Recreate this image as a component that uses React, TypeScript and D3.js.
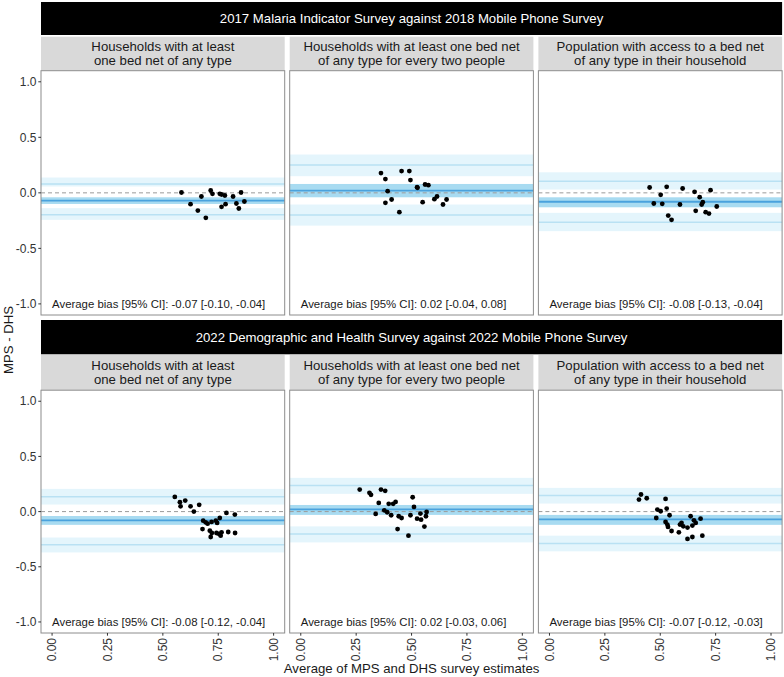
import React from "react";
import * as d3 from "d3";

// ---------- DATA ----------
const rowTitles = [
  "2017 Malaria Indicator Survey against 2018 Mobile Phone Survey",
  "2022 Demographic and Health Survey against 2022 Mobile Phone Survey",
];
const indicatorTitles = [
  ["Households with at least", "one bed net of any type"],
  ["Households with at least one bed net", "of any type for every two people"],
  ["Population with access to a bed net", "of any type in their household"],
];
const yTicks = [1.0, 0.5, 0.0, -0.5, -1.0];
const xTicks = [0, 0.25, 0.5, 0.75, 1.0];

// 2017 MIS vs 2018 MPS
const misAnyX = [0.584, 0.625, 0.658, 0.674, 0.694, 0.716, 0.724, 0.757, 0.765, 0.78, 0.765, 0.783, 0.817, 0.832, 0.843, 0.853, 0.868];
const misAnyY = [0.003, -0.102, -0.16, -0.033, -0.225, 0.021, -0.009, -0.009, -0.015, -0.024, -0.126, -0.102, -0.033, -0.096, -0.141, 0.003, -0.078];
const misTwoX = [0.362, 0.382, 0.455, 0.49, 0.495, 0.392, 0.382, 0.41, 0.445, 0.525, 0.527, 0.561, 0.576, 0.55, 0.603, 0.615, 0.642, 0.658];
const misTwoY = [0.178, 0.124, 0.196, 0.196, 0.115, 0.015, -0.09, -0.06, -0.174, 0.051, 0.045, 0.075, 0.069, -0.084, -0.057, -0.033, -0.105, -0.06];
const misAccX = [0.452, 0.529, 0.502, 0.601, 0.655, 0.727, 0.471, 0.509, 0.589, 0.536, 0.551, 0.678, 0.692, 0.687, 0.66, 0.705, 0.72, 0.755];
const misAccY = [0.048, 0.054, -0.018, 0.039, 0.009, 0.024, -0.096, -0.099, -0.105, -0.205, -0.243, -0.039, -0.084, -0.105, -0.162, -0.174, -0.187, -0.123];

// 2022 DHS vs 2022 MPS
const dhsAnyX = [0.554, 0.577, 0.601, 0.58, 0.625, 0.64, 0.664, 0.682, 0.693, 0.702, 0.679, 0.72, 0.739, 0.745, 0.757, 0.787, 0.825, 0.712, 0.721, 0.716, 0.742, 0.754, 0.765, 0.761, 0.795, 0.826];
const dhsAnyY = [0.133, 0.085, 0.1, 0.048, 0.048, 0.0, 0.061, -0.082, -0.097, -0.109, -0.158, -0.094, -0.082, -0.103, -0.058, -0.012, -0.027, -0.173, -0.194, -0.23, -0.194, -0.203, -0.188, -0.218, -0.185, -0.194];
const dhsTwoX = [0.266, 0.31, 0.317, 0.362, 0.381, 0.352, 0.377, 0.39, 0.338, 0.408, 0.397, 0.417, 0.428, 0.442, 0.455, 0.437, 0.505, 0.511, 0.495, 0.486, 0.525, 0.54, 0.543, 0.565, 0.568, 0.558];
const dhsTwoY = [0.2, 0.17, 0.152, 0.2, 0.188, 0.079, 0.012, -0.006, -0.021, -0.033, 0.07, 0.07, 0.088, -0.042, -0.058, -0.158, 0.13, 0.042, -0.033, -0.218, -0.064, -0.018, -0.073, -0.042, -0.003, -0.136];
const dhsAccX = [0.404, 0.413, 0.439, 0.524, 0.487, 0.502, 0.529, 0.482, 0.524, 0.532, 0.535, 0.542, 0.551, 0.584, 0.589, 0.596, 0.604, 0.623, 0.637, 0.645, 0.652, 0.66, 0.682, 0.623, 0.645, 0.69];
const dhsAccY = [0.109, 0.155, 0.121, 0.115, 0.018, 0.003, 0.027, -0.058, -0.094, -0.118, -0.139, -0.033, -0.176, -0.188, -0.118, -0.103, -0.133, -0.145, -0.042, -0.127, -0.079, -0.103, -0.064, -0.248, -0.23, -0.218];

// Bias statistics per panel (row-major: MIS any, two, access, DHS any, two, access)
const biasMean = [-0.07, 0.02, -0.08, -0.08, 0.02, -0.07];
const biasLow = [-0.10, -0.04, -0.13, -0.12, -0.03, -0.12];
const biasHigh = [-0.04, 0.08, -0.04, -0.04, 0.06, -0.03];
const upperLoA = [0.08, 0.25, 0.105, 0.135, 0.236, 0.145];
const upperLoALow = [0.057, 0.15, 0.03, 0.064, 0.161, 0.073];
const upperLoAHigh = [0.138, 0.345, 0.185, 0.206, 0.306, 0.215];
const lowerLoA = [-0.198, -0.2, -0.265, -0.3, -0.203, -0.29];
const lowerLoALow = [-0.243, -0.295, -0.345, -0.37, -0.279, -0.36];
const lowerLoAHigh = [-0.138, -0.105, -0.18, -0.235, -0.134, -0.218];

const panelXs = [misAnyX, misTwoX, misAccX, dhsAnyX, dhsTwoX, dhsAccX];
const panelYs = [misAnyY, misTwoY, misAccY, dhsAnyY, dhsTwoY, dhsAccY];

// ---------- LAYOUT ----------
const W = 784;
const H = 677;
const FONT = "'Liberation Sans', Arial, Helvetica, sans-serif";
const colX0 = 41;
const colW = 243.7;
const colGap = 5;
const rows = [
  { hTop: 2, hBot: 35, sTop: 36.7, sBot: 70.7, pTop: 70.7, pBot: 315 },
  { hTop: 320, hBot: 354.3, sTop: 355, sBot: 390.2, pTop: 390.2, pBot: 633 },
];

const C = {
  loaBand: "#e4f5fc",
  loaLine: "#b9e1f3",
  meanBand: "#a8dbf1",
  meanLine: "#4aa2dd",
  border: "#8c8c8c",
  strip: "#d9d9d9",
  text: "#1a1a1a",
  axis: "#333333",
};

function Panel({ idx }: { idx: number }) {
  const r = Math.floor(idx / 3);
  const c = idx % 3;
  const row = rows[r];
  const x0 = colX0 + c * (colW + colGap);
  const x = d3.scaleLinear().domain([-0.05, 1.05]).range([x0, x0 + colW]);
  const y = d3.scaleLinear().domain([-1.1, 1.1]).range([row.pBot, row.pTop]);
  const xs = panelXs[idx];
  const ys = panelYs[idx];
  const band = (lo: number, hi: number, fill: string) => (
    <rect x={x0} width={colW} y={y(hi)} height={y(lo) - y(hi)} fill={fill} />
  );
  const hline = (v: number, stroke: string, sw: number, dash?: string) => (
    <line x1={x0} x2={x0 + colW} y1={y(v)} y2={y(v)} stroke={stroke} strokeWidth={sw} strokeDasharray={dash} />
  );
  const label = `Average bias [95% CI]: ${biasMean[idx].toFixed(2)} [${biasLow[idx].toFixed(2)}, ${biasHigh[idx].toFixed(2)}]`;
  const stripMid = (row.sTop + row.sBot) / 2;
  return (
    <g>
      {/* strip */}
      <rect x={x0} y={row.sTop} width={colW} height={row.sBot - row.sTop} fill={C.strip} />
      <text x={x0 + colW / 2} y={stripMid - 2.8} textAnchor="middle" fontSize={13.2} fill={C.text} fontFamily={FONT}>
        {indicatorTitles[c][0]}
      </text>
      <text x={x0 + colW / 2} y={stripMid + 11.7} textAnchor="middle" fontSize={13.2} fill={C.text} fontFamily={FONT}>
        {indicatorTitles[c][1]}
      </text>
      {/* panel */}
      <rect x={x0} y={row.pTop} width={colW} height={row.pBot - row.pTop} fill="#ffffff" />
      {band(upperLoALow[idx], upperLoAHigh[idx], C.loaBand)}
      {band(lowerLoALow[idx], lowerLoAHigh[idx], C.loaBand)}
      {band(biasLow[idx], biasHigh[idx], C.meanBand)}
      {hline(upperLoA[idx], C.loaLine, 1.5)}
      {hline(lowerLoA[idx], C.loaLine, 1.5)}
      {hline(biasMean[idx], C.meanLine, 1.8)}
      {hline(0, "#9a9a9a", 1, "4,3")}
      {xs.map((v, i) => (
        <circle key={i} cx={x(v)} cy={y(ys[i])} r={2.4} fill="#000" />
      ))}
      <text x={x(0)} y={y(-1.0) + 4} fontSize={11.4} fill={C.text} fontFamily={FONT}>
        {label}
      </text>
      <rect x={x0} y={row.pTop} width={colW} height={row.pBot - row.pTop} fill="none" stroke={C.border} strokeWidth={1} />
      {/* y axis on first column */}
      {c === 0 &&
        yTicks.map((t) => (
          <g key={t}>
            <line x1={x0 - 2.7} x2={x0} y1={y(t)} y2={y(t)} stroke={C.axis} strokeWidth={1} />
            <text x={x0 - 4.5} y={y(t) + 4.2} textAnchor="end" fontSize={12} fill={C.axis} fontFamily={FONT}>
              {t.toFixed(1)}
            </text>
          </g>
        ))}
      {/* x axis on bottom row */}
      {r === 1 &&
        xTicks.map((t) => (
          <g key={t}>
            <line x1={x(t)} x2={x(t)} y1={row.pBot} y2={row.pBot + 2.7} stroke={C.axis} strokeWidth={1} />
            <text
              transform={`translate(${x(t) + 4.2},${row.pBot + 5}) rotate(-90)`}
              textAnchor="end"
              fontSize={12}
              fill={C.axis}
              fontFamily={FONT}
            >
              {t.toFixed(2)}
            </text>
          </g>
        ))}
    </g>
  );
}

export default function App() {
  const fullX0 = colX0;
  const fullX1 = colX0 + 3 * colW + 2 * colGap;
  return (
    <div>
      <style>{`body{margin:0;}`}</style>
      <svg width={W} height={H} style={{ display: "block", background: "#fff" }}>
        {rows.map((row, r) => (
          <g key={r}>
            <rect x={fullX0} y={row.hTop} width={fullX1 - fullX0} height={row.hBot - row.hTop} fill="#000" />
            <text
              x={(fullX0 + fullX1) / 2}
              y={(row.hTop + row.hBot) / 2 + 4.7}
              textAnchor="middle"
              fontSize={13.2}
              fill="#fff"
              fontFamily={FONT}
            >
              {rowTitles[r]}
            </text>
          </g>
        ))}
        {d3.range(6).map((i) => (
          <Panel key={i} idx={i} />
        ))}
        <text x={(fullX0 + fullX1) / 2} y={673} textAnchor="middle" fontSize={13.2} fill={C.text} fontFamily={FONT}>
          Average of MPS and DHS survey estimates
        </text>
        <text transform={`translate(13,340) rotate(-90)`} textAnchor="middle" fontSize={13.2} fill={C.text} fontFamily={FONT}>
          MPS - DHS
        </text>
      </svg>
    </div>
  );
}
